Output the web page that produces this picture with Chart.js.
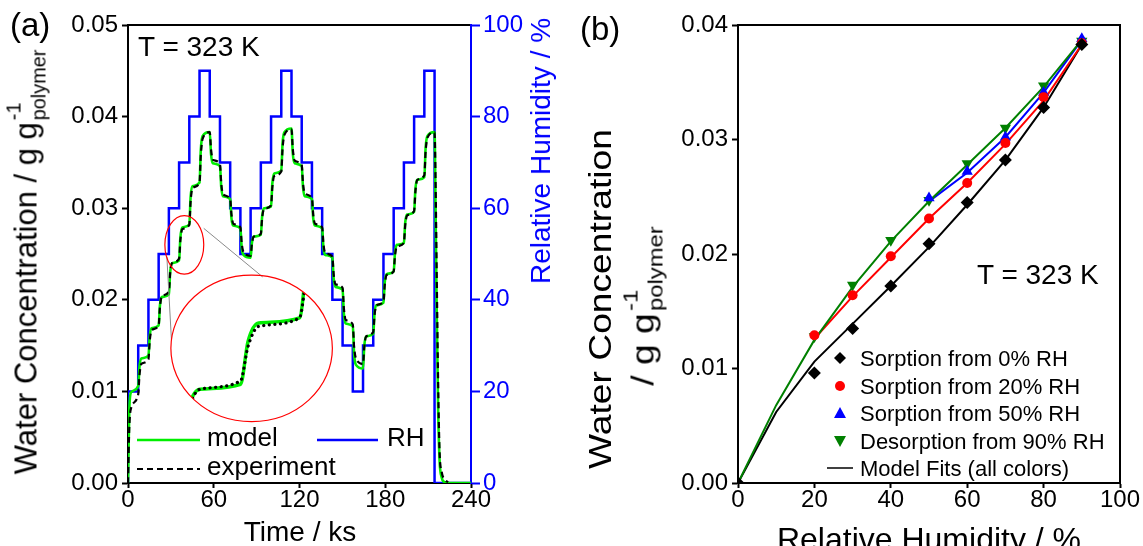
<!DOCTYPE html>
<html>
<head>
<meta charset="utf-8">
<script src="https://cdn.jsdelivr.net/npm/chart.js@4.4.1/dist/chart.umd.min.js"></script>
<style>
  body { margin: 0; background: #fff; }
  #fig { position: relative; width: 1143px; height: 546px; overflow: hidden;
         font-family: "Liberation Sans", Arial, sans-serif; color: #000; background: #fff; }
  #fig canvas { position: absolute; top: 0; }
  .t { position: absolute; white-space: nowrap; line-height: 1; }
  .rot { left: 0; top: 0; transform-origin: 0 0; }
  .stk { position: relative; display: inline-block; font-size: 0.64em; margin-left: 0.1em; }
  .stk .sp { position: absolute; left: 0; top: -0.8em; }
  .stk .sb { position: relative; top: 0.45em; }
  svg.over { position: absolute; left: 0; top: 0; pointer-events: none; }
</style>
</head>
<body>
<div id="fig">
  <canvas id="chartA" width="560" height="546" style="left:0"></canvas>
  <canvas id="chartB" width="573" height="546" style="left:570px"></canvas>

  <!-- panel (a) text -->
  <div class="t" style="left:10px;top:8px;font-size:33px">(a)</div>
  <div class="t" style="left:138px;top:33px;font-size:28px">T = 323 K</div>
  <div class="t rot" style="font-size:31px;transform:translate(26px,262px) rotate(-90deg) translate(-50%,-50%)">Water Concentration / g g<span class="stk"><span class="sp">-1</span><span class="sb">polymer</span></span></div>
  <div class="t rot" style="font-size:28px;color:#0000ff;transform:translate(541px,151px) rotate(-90deg) translate(-50%,-50%)">Relative Humidity / %</div>
  <div class="t" style="left:0;width:600px;top:518px;font-size:28px;text-align:center">Time / ks</div>
  <div class="t" style="left:207px;top:424px;font-size:26px">model</div>
  <div class="t" style="left:387px;top:424px;font-size:26px">RH</div>
  <div class="t" style="left:207px;top:453px;font-size:26px">experiment</div>

  <!-- panel (b) text -->
  <div class="t" style="left:580px;top:12px;font-size:33px">(b)</div>
  <div class="t" style="left:977px;top:261px;font-size:28px">T = 323 K</div>
  <div class="t rot" style="font-size:31px;transform:translate(600px,299px) rotate(-90deg) scaleX(1.2) translate(-50%,-50%)">Water Concentration</div>
  <div class="t rot" style="font-size:31px;transform:translate(643px,306px) rotate(-90deg) scaleX(1.2) translate(-50%,-50%)">/ g g<span class="stk"><span class="sp">-1</span><span class="sb">polymer</span></span></div>
  <div class="t" style="left:579px;width:700px;top:523px;font-size:32px;text-align:center">Relative Humidity / %</div>
  <div class="t" style="left:860px;top:348px;font-size:22px">Sorption from 0% RH</div>
  <div class="t" style="left:860px;top:376px;font-size:22px">Sorption from 20% RH</div>
  <div class="t" style="left:860px;top:403px;font-size:22px">Sorption from 50% RH</div>
  <div class="t" style="left:860px;top:431px;font-size:22px">Desorption from 90% RH</div>
  <div class="t" style="left:860px;top:458px;font-size:22px">Model Fits (all colors)</div>

  <!-- legend keys -->
  <svg class="over" width="1143" height="546">
    <line x1="137" y1="440" x2="200" y2="440" stroke="#00ee00" stroke-width="2.5"/>
    <line x1="317" y1="440" x2="378" y2="440" stroke="#0000ff" stroke-width="2.5"/>
    <line x1="137" y1="469" x2="200" y2="469" stroke="#000" stroke-width="2.2" stroke-dasharray="6 4"/>
    <polygon points="840,352 846,358 840,364 834,358" fill="#000"/>
    <circle cx="840" cy="386" r="5" fill="#ff0000"/>
    <polygon points="840,407 846,418 834,418" fill="#0000ff"/>
    <polygon points="834,436 846,436 840,447" fill="#008000"/>
    <line x1="827" y1="468" x2="853" y2="468" stroke="#000" stroke-width="1.5"/>
  </svg>
</div>

<script>
// ---------- panel (a): water uptake vs. time ----------
// time grid in ks shared by model and experiment
const tGrid = [0,
  0.9, 2.2, 7.15,     8.05, 9.35, 14.3,    15.2, 16.5, 21.45,   22.35, 23.65, 28.6,
  29.5, 30.8, 35.75,  36.65, 37.95, 42.9,  43.8, 45.1, 50.05,   50.95, 52.25, 57.2,
  58.1, 59.4, 64.35,  65.25, 66.55, 71.5,  72.4, 73.7, 78.65,   79.55, 80.85, 85.8,
  86.7, 88.0, 92.95,  93.85, 95.15, 100.1, 101.0, 102.3, 107.25, 108.15, 109.45, 114.4,
  115.3, 116.6, 121.55, 122.45, 123.75, 128.7, 129.6, 130.9, 135.85, 136.75, 138.05, 143.0,
  143.9, 145.2, 150.15, 151.05, 152.35, 157.3, 158.2, 159.5, 164.45, 165.35, 166.65, 171.6,
  172.5, 173.8, 178.75, 179.65, 180.95, 185.9, 186.8, 188.1, 193.05, 193.95, 195.25, 200.2,
  201.1, 202.4, 207.35, 208.25, 209.55, 214.5,
  215.2, 216.0, 217.0, 218.0, 219.5, 221.5, 224.0, 240.0];

// measured water concentration (g/g polymer)
const exptConc = [0,
  0.0060, 0.0082, 0.0097,  0.0118, 0.0130, 0.0135,  0.0155, 0.0167, 0.0172,  0.0192, 0.0204, 0.0209,
  0.0229, 0.0240, 0.0245,  0.0265, 0.0277, 0.0282,  0.0307, 0.0322, 0.0328,  0.0358, 0.0376, 0.0383,
  0.0364, 0.0353, 0.0348,  0.0327, 0.0315, 0.0310,  0.0293, 0.0283, 0.0279,  0.0262, 0.0252, 0.0248,
  0.0261, 0.0269, 0.0272,  0.0289, 0.0299, 0.0303,  0.0323, 0.0335, 0.0340,  0.0365, 0.0380, 0.0386,
  0.0365, 0.0352, 0.0347,  0.0327, 0.0316, 0.0311,  0.0293, 0.0283, 0.0279,  0.0261, 0.0251, 0.0247,
  0.0228, 0.0217, 0.0213,  0.0191, 0.0178, 0.0173,  0.0149, 0.0136, 0.0130,  0.0149, 0.0160, 0.0165,
  0.0183, 0.0194, 0.0198,  0.0216, 0.0227, 0.0231,  0.0248, 0.0258, 0.0262,  0.0281, 0.0292, 0.0297,
  0.0318, 0.0331, 0.0336,  0.0362, 0.0377, 0.0383,
  0.0330, 0.0230, 0.0110, 0.0035, 0.0012, 0.0004, 0.0001, null];

// model prediction (g/g polymer)
const modelConc = [0,
  0.0080, 0.0099, 0.0106,  0.0127, 0.0136, 0.0139,  0.0160, 0.0169, 0.0172,  0.0194, 0.0203, 0.0206,
  0.0230, 0.0240, 0.0243,  0.0268, 0.0279, 0.0282,  0.0312, 0.0324, 0.0328,  0.0364, 0.0379, 0.0383,
  0.0359, 0.0349, 0.0346,  0.0323, 0.0313, 0.0310,  0.0289, 0.0281, 0.0278,  0.0257, 0.0249, 0.0246,
  0.0262, 0.0269, 0.0271,  0.0291, 0.0300, 0.0302,  0.0327, 0.0338, 0.0341,  0.0371, 0.0383, 0.0387,
  0.0360, 0.0349, 0.0346,  0.0323, 0.0313, 0.0310,  0.0289, 0.0281, 0.0278,  0.0257, 0.0249, 0.0246,
  0.0223, 0.0214, 0.0211,  0.0185, 0.0174, 0.0171,  0.0141, 0.0129, 0.0125,  0.0150, 0.0160, 0.0163,
  0.0185, 0.0194, 0.0197,  0.0219, 0.0228, 0.0231,  0.0251, 0.0260, 0.0262,  0.0284, 0.0293, 0.0296,
  0.0321, 0.0331, 0.0334,  0.0366, 0.0379, 0.0383,
  0.0300, 0.0190, 0.0080, 0.0025, 0.0006, 0.0001, 0, 0];

// RH program: each level holds from its time until the next one
const rhTime = [0, 0, 7.15, 14.3, 21.45, 28.6, 35.75, 42.9, 50.05, 57.2, 64.35, 71.5, 78.65,
  85.8, 92.95, 100.1, 107.25, 114.4, 121.55, 128.7, 135.85, 143.0, 150.15, 157.3,
  164.45, 171.6, 178.75, 185.9, 193.05, 200.2, 207.35, 214.5, 240];
const rhLevel = [0, 20, 30, 40, 50, 60, 70, 80, 90, 80, 70, 60, 50,
  60, 70, 80, 90, 80, 70, 60, 50, 40, 30, 20,
  30, 40, 50, 60, 70, 80, 90, 0, 0];

const concTicks = [0, 0.01, 0.02, 0.03, 0.04, 0.05];

// ---------- panel (b): isotherms ----------
const sorb0RH = [0, 20, 30, 40, 50, 60, 70, 80, 90];
const sorb0C  = [0, 0.0096, 0.0135, 0.0172, 0.0209, 0.0245, 0.0282, 0.0328, 0.0383];
const sorb20RH = [20, 30, 40, 50, 60, 70, 80, 90];
const sorb20C  = [0.0129, 0.0164, 0.0198, 0.0231, 0.0262, 0.0297, 0.0337, 0.0384];
const sorb50RH = [50, 60, 70, 80, 90];
const sorb50C  = [0.0249, 0.0272, 0.0302, 0.0341, 0.0388];
const desorbRH = [20, 30, 40, 50, 60, 70, 80, 90];
const desorbC  = [0.0128, 0.0173, 0.0212, 0.0247, 0.0279, 0.0310, 0.0347, 0.0386];

const fitRH    = [0, 10, 20, 30, 40, 50, 60, 70, 80, 90];
const fit0C    = [0, 0.0062, 0.0106, 0.0139, 0.0172, 0.0206, 0.0243, 0.0282, 0.0328, 0.0383];
const fitDesC  = [0, 0.0068, 0.0125, 0.0171, 0.0211, 0.0246, 0.0278, 0.0310, 0.0346, 0.0387];
const fit20C   = [0.0126, 0.0163, 0.0197, 0.0231, 0.0262, 0.0296, 0.0334, 0.0383];
const fit50C   = [0.0246, 0.0271, 0.0302, 0.0341, 0.0387];

// magnifier drawn on panel (a), in data units of the main axes
const lens = {
  small: { t: 39.4, c: 0.0260, dt: 13.6, dc: 0.0032 },
  big:   { t: 86.5, c: 0.0147, dt: 56.5, dc: 0.0080 },
  links: [[53.0, 0.0278, 94.2, 0.0225], [27.2, 0.0247, 30.4, 0.0156]]
};

const pts = (xs, ys) => xs.map((x, i) => ({ x, y: ys[i] }));
const tickFont = { family: '"Liberation Sans", Arial, sans-serif', size: 24, lineHeight: 1 };

function ellipsePath(chart, e) {
  const x = chart.scales.x, y = chart.scales.y;
  const cx = x.getPixelForValue(e.t), cy = y.getPixelForValue(e.c);
  const rx = x.getPixelForValue(e.t + e.dt) - cx;
  const ry = cy - y.getPixelForValue(e.c + e.dc);
  chart.ctx.beginPath();
  chart.ctx.ellipse(cx, cy, rx, ry, 0, 0, Math.PI * 2);
}

const lensPlugin = {
  id: 'lens',
  beforeDatasetDraw(chart, args) {
    if (!chart.data.datasets[args.index].inLens) return;
    chart.ctx.save();
    ellipsePath(chart, lens.big);
    chart.ctx.clip();
  },
  afterDatasetDraw(chart, args) {
    if (chart.data.datasets[args.index].inLens) chart.ctx.restore();
  },
  afterDatasetsDraw(chart) {
    const ctx = chart.ctx, x = chart.scales.x, y = chart.scales.y;
    ctx.save();
    ctx.strokeStyle = '#8a8a8a';
    ctx.lineWidth = 1;
    lens.links.forEach(([t1, c1, t2, c2]) => {
      ctx.beginPath();
      ctx.moveTo(x.getPixelForValue(t1), y.getPixelForValue(c1));
      ctx.lineTo(x.getPixelForValue(t2), y.getPixelForValue(c2));
      ctx.stroke();
    });
    ctx.strokeStyle = '#ff0000';
    ctx.lineWidth = 1.2;
    ellipsePath(chart, lens.small); ctx.stroke();
    ellipsePath(chart, lens.big); ctx.stroke();
    ctx.restore();
  }
};

const axisGrid = (color, len) => ({ display: true, drawOnChartArea: false, drawTicks: true,
  tickLength: len, tickColor: color, tickWidth: 2 });

new Chart(document.getElementById('chartA'), {
  type: 'line',
  data: {
    datasets: [
      { label: 'experiment', data: pts(tGrid, exptConc), borderColor: '#000', borderWidth: 2.2,
        borderDash: [6, 4], pointRadius: 0, cubicInterpolationMode: 'monotone', yAxisID: 'y' },
      { label: 'model', data: pts(tGrid, modelConc), borderColor: '#00ee00', borderWidth: 2.6,
        pointRadius: 0, cubicInterpolationMode: 'monotone', yAxisID: 'y' },
      { label: 'RH', data: pts(rhTime, rhLevel), borderColor: '#0000ff', borderWidth: 2.5,
        pointRadius: 0, stepped: true, yAxisID: 'yRH' },
      // magnified copy inside the lens
      { label: 'experiment (zoom)', inLens: true, data: pts(tGrid, exptConc), borderColor: '#000',
        borderWidth: 3.2, borderDash: [0.1, 5.5], borderCapStyle: 'round', pointRadius: 0,
        cubicInterpolationMode: 'monotone', xAxisID: 'xi', yAxisID: 'yi' },
      { label: 'model (zoom)', inLens: true, data: pts(tGrid, modelConc), borderColor: '#00ee00',
        borderWidth: 3.5, pointRadius: 0, cubicInterpolationMode: 'monotone', xAxisID: 'xi', yAxisID: 'yi' }
    ]
  },
  options: {
    responsive: false, animation: false, events: [],
    layout: { padding: 0 },
    plugins: { legend: { display: false }, tooltip: { enabled: false } },
    scales: {
      x: { type: 'linear', position: 'bottom', min: 0, max: 240,
        ticks: { stepSize: 60, color: '#000', font: tickFont, padding: 0, maxRotation: 0 },
        grid: axisGrid('#000', 5), border: { color: '#000', width: 2 },
        afterFit(s) { s.height = 63; } },
      xTop: { type: 'linear', position: 'top', min: 0, max: 240,
        ticks: { display: false }, grid: { display: false }, border: { color: '#000', width: 2 },
        afterFit(s) { s.height = 25; } },
      y: { type: 'linear', position: 'left', min: 0, max: 0.05,
        afterBuildTicks(s) { s.ticks = concTicks.map(v => ({ value: v })); },
        ticks: { color: '#000', font: tickFont, padding: 4, callback: v => v.toFixed(2) },
        grid: axisGrid('#000', 6), border: { color: '#000', width: 2 },
        afterFit(s) { s.width = 128; } },
      yRH: { type: 'linear', position: 'right', min: 0, max: 100,
        ticks: { stepSize: 20, color: '#0000ff', font: tickFont, padding: 3 },
        grid: axisGrid('#0000ff', 9), border: { color: '#0000ff', width: 2 },
        afterFit(s) { s.width = 89; } },
      xi: { type: 'linear', display: false, min: 22.1, max: 63.7 },
      yi: { type: 'linear', display: false, min: 0.0185, max: 0.0454 }
    }
  },
  plugins: [lensPlugin]
});

new Chart(document.getElementById('chartB'), {
  type: 'scatter',
  data: {
    datasets: [
      { label: 'Sorption from 0% RH', data: pts(sorb0RH, sorb0C), pointStyle: 'rectRot',
        pointRadius: 6.5, backgroundColor: '#000', borderColor: '#000', borderWidth: 0 },
      { label: 'Sorption from 20% RH', data: pts(sorb20RH, sorb20C), pointStyle: 'circle',
        pointRadius: 5, backgroundColor: '#ff0000', borderColor: '#ff0000', borderWidth: 0 },
      { label: 'Sorption from 50% RH', data: pts(sorb50RH, sorb50C), pointStyle: 'triangle',
        pointRadius: 6.5, backgroundColor: '#0000ff', borderColor: '#0000ff', borderWidth: 0 },
      { label: 'Desorption from 90% RH', data: pts(desorbRH, desorbC), pointStyle: 'triangle',
        rotation: 180, pointRadius: 6.5, backgroundColor: '#008000', borderColor: '#008000', borderWidth: 0 },
      { label: 'fit desorption', data: pts(fitRH, fitDesC), showLine: true, pointRadius: 0,
        borderColor: '#008000', borderWidth: 2 },
      { label: 'fit 50', data: pts(sorb50RH, fit50C), showLine: true, pointRadius: 0,
        borderColor: '#0000ff', borderWidth: 2 },
      { label: 'fit 20', data: pts(sorb20RH, fit20C), showLine: true, pointRadius: 0,
        borderColor: '#ff0000', borderWidth: 2 },
      { label: 'fit 0', data: pts(fitRH, fit0C), showLine: true, pointRadius: 0,
        borderColor: '#000', borderWidth: 2 }
    ]
  },
  options: {
    responsive: false, animation: false, events: [],
    layout: { padding: 0 },
    plugins: { legend: { display: false }, tooltip: { enabled: false } },
    scales: {
      x: { type: 'linear', position: 'bottom', min: 0, max: 100,
        ticks: { stepSize: 20, color: '#000', font: tickFont, padding: 0, maxRotation: 0 },
        grid: axisGrid('#000', 5), border: { color: '#000', width: 2 },
        afterFit(s) { s.height = 63; } },
      xTop: { type: 'linear', position: 'top', min: 0, max: 100,
        ticks: { display: false }, grid: { display: false }, border: { color: '#000', width: 2 },
        afterFit(s) { s.height = 25; } },
      y: { type: 'linear', position: 'left', min: 0, max: 0.04,
        afterBuildTicks(s) { s.ticks = concTicks.slice(0, 5).map(v => ({ value: v })); },
        ticks: { color: '#000', font: tickFont, padding: 4, callback: v => v.toFixed(2) },
        grid: axisGrid('#000', 6), border: { color: '#000', width: 2 },
        afterFit(s) { s.width = 168; } },
      yRight: { type: 'linear', position: 'right', min: 0, max: 1,
        ticks: { display: false }, grid: { display: false }, border: { color: '#000', width: 2 },
        afterFit(s) { s.width = 23; } }
    }
  }
});
</script>
</body>
</html>
